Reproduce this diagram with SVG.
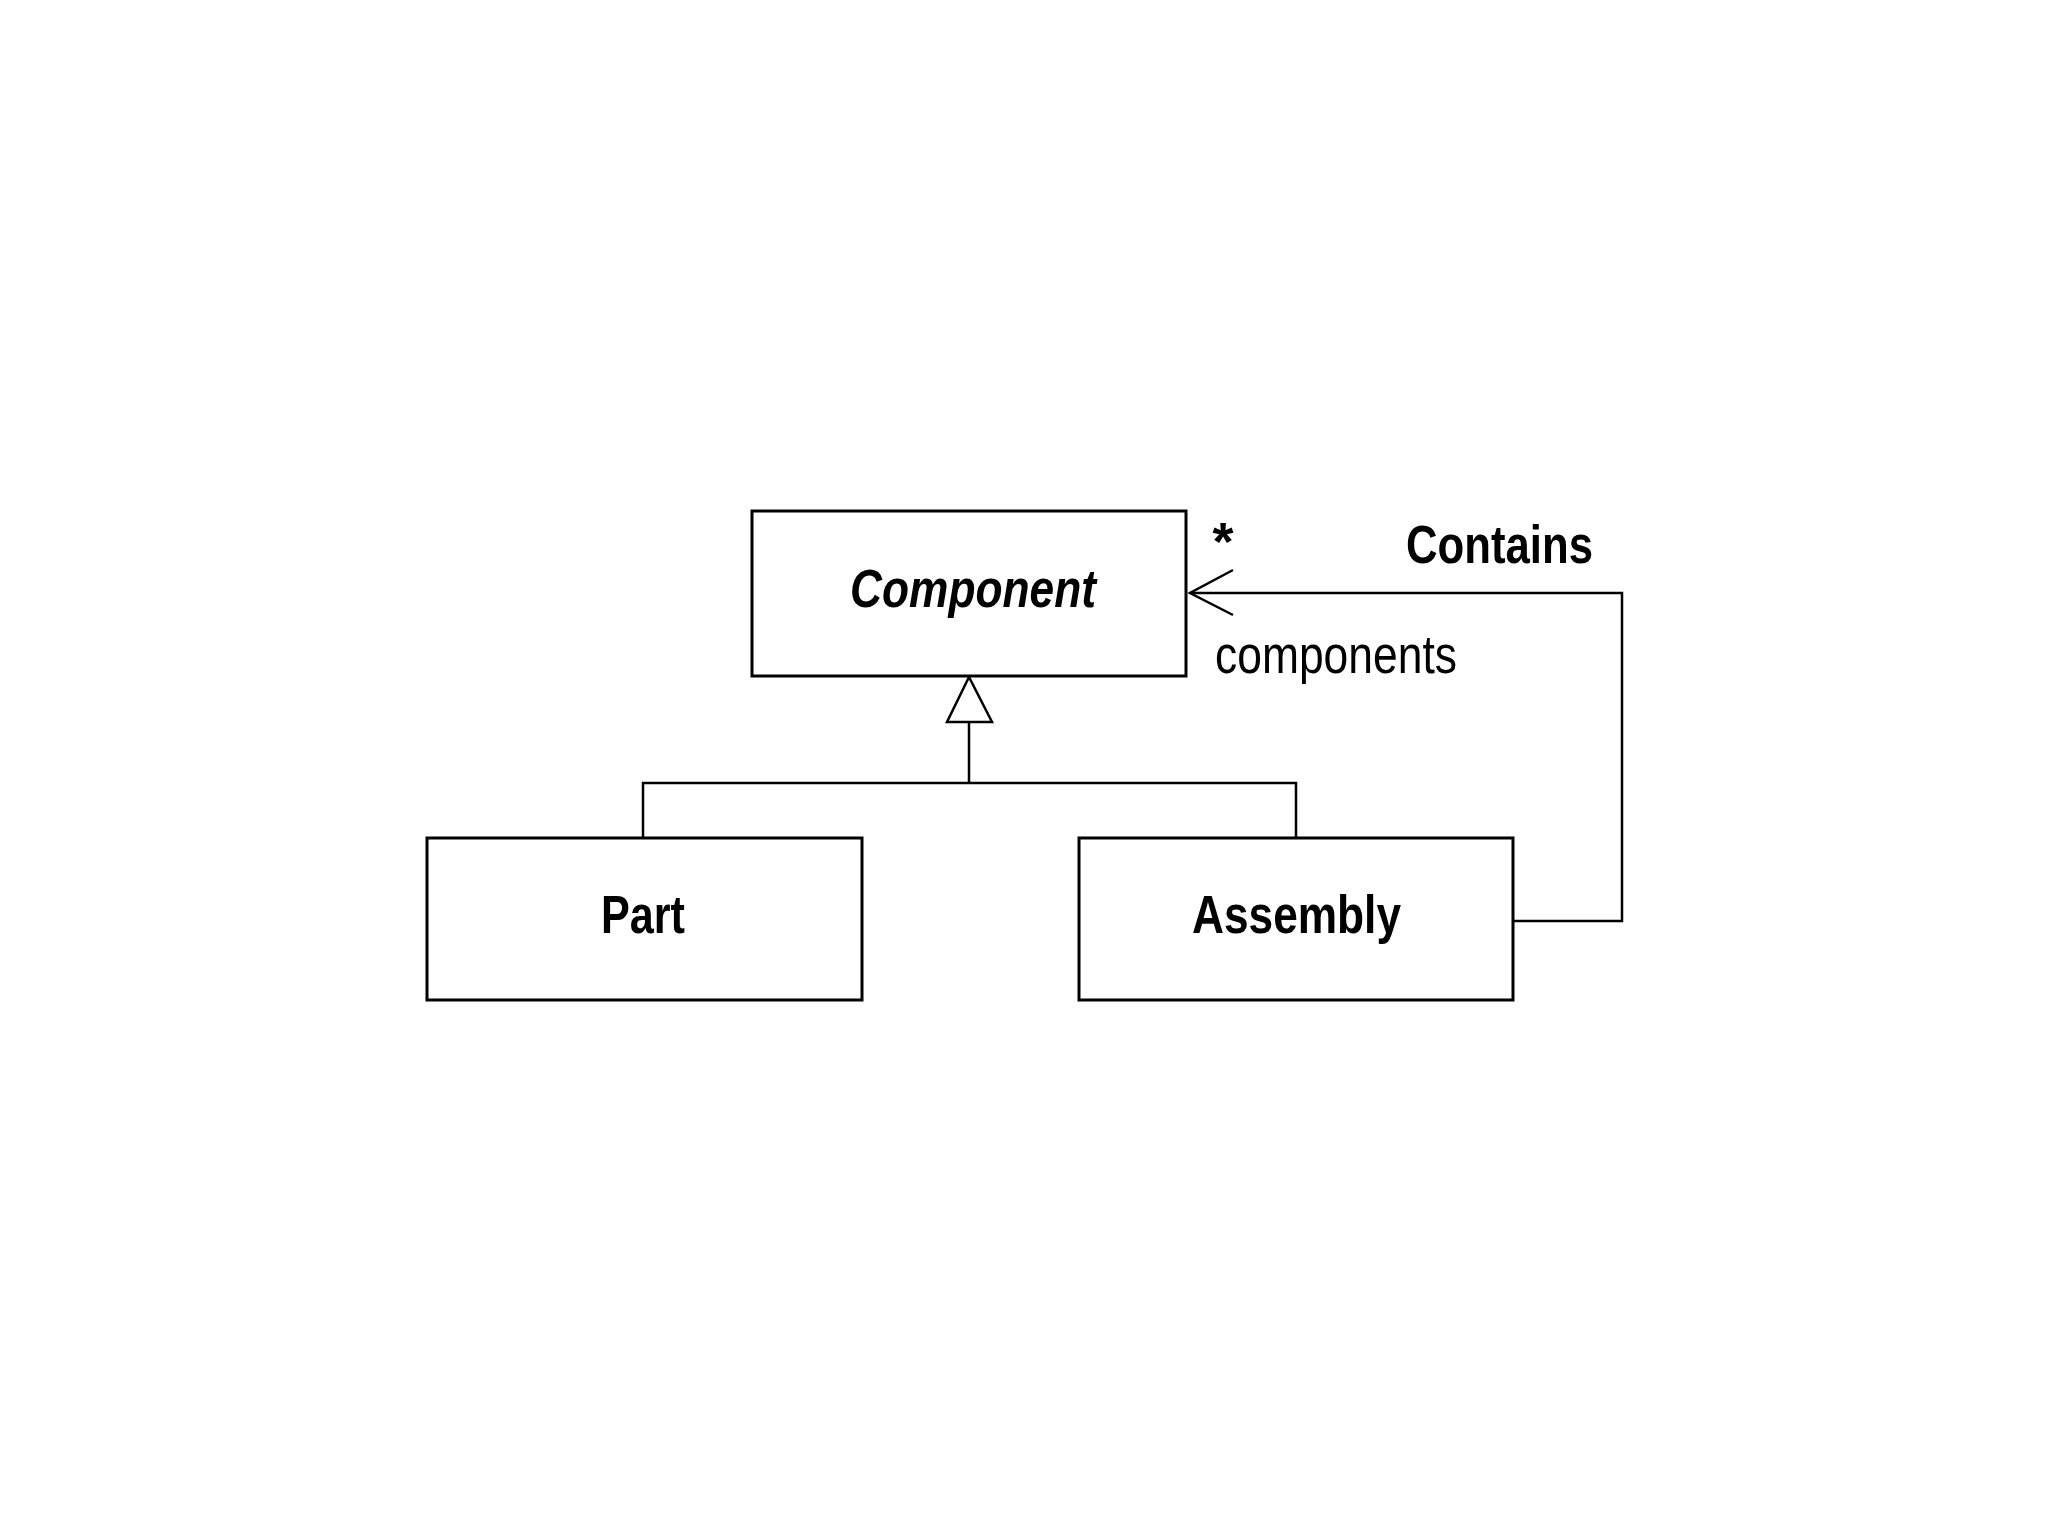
<svg xmlns="http://www.w3.org/2000/svg" width="2048" height="1536" viewBox="0 0 2048 1536">
<style>
.box{fill:#fff;stroke:#000;stroke-width:3}
.ln{fill:none;stroke:#000;stroke-width:2.5}
.lbl{font-family:"Liberation Sans",Arial,sans-serif;font-weight:bold;font-size:54px;fill:#000}
.reg{font-family:"Liberation Sans",Arial,sans-serif;font-size:54px;fill:#000}
</style>
<rect width="2048" height="1536" fill="#fff"/>
<g id="connectors">
<polyline class="ln" points="643,838 643,783 1296,783 1296,838"/>
<line class="ln" x1="969" y1="783" x2="969" y2="722"/>
<polygon class="ln" points="969,677 947,722 992,722" fill="#fff"/>
<polyline class="ln" points="1513,921 1622,921 1622,593 1190,593"/>
<polyline class="ln" points="1233,570 1190,593 1233,615"/>
<text class="lbl" x="1223" y="560" font-size="22" text-anchor="middle">*</text>
<text class="lbl" x="1406" y="563" font-size="50" textLength="187" lengthAdjust="spacingAndGlyphs">Contains</text>
<text class="reg" x="1215" y="673" font-size="54" textLength="242" lengthAdjust="spacingAndGlyphs">components</text>
</g>
<g id="component">
<rect class="box" x="752" y="511" width="434" height="165"/>
<text class="lbl" x="850" y="607" font-style="italic" textLength="246" lengthAdjust="spacingAndGlyphs">Component</text>
</g>
<g id="part">
<rect class="box" x="427" y="838" width="435" height="162"/>
<text class="lbl" x="601" y="933" textLength="84" lengthAdjust="spacingAndGlyphs">Part</text>
</g>
<g id="assembly">
<rect class="box" x="1079" y="838" width="434" height="162"/>
<text class="lbl" x="1192" y="933" textLength="209" lengthAdjust="spacingAndGlyphs">Assembly</text>
</g>
</svg>
